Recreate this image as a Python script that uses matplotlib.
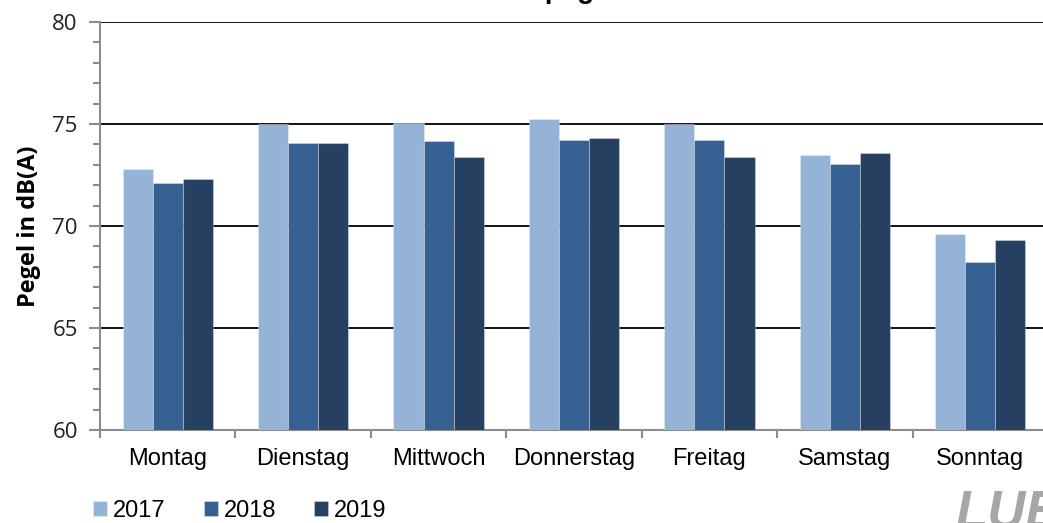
import matplotlib.pyplot as plt
import numpy as np
from matplotlib.ticker import MultipleLocator, FixedLocator

days = ['Montag', 'Dienstag', 'Mittwoch', 'Donnerstag', 'Freitag', 'Samstag', 'Sonntag']
years = ['2017', '2018', '2019']
v2017 = [72.8, 75.0, 75.05, 75.25, 75.0, 73.5, 69.6]
v2018 = [72.1, 74.05, 74.15, 74.2, 74.2, 73.05, 68.25]
v2019 = [72.3, 74.05, 73.4, 74.3, 73.4, 73.6, 69.3]
colors = ['#95B3D7', '#366092', '#254061']

fig = plt.figure(figsize=(10.43, 5.23), dpi=100)
ax = fig.add_axes([100 / 1043, 93 / 523, 948 / 1043, 408 / 523])

x = np.arange(len(days))
w = 0.222
for i, (vals, c, lab) in enumerate(zip([v2017, v2018, v2019], colors, years)):
    ax.bar(x + (i - 1) * w, vals, width=w, color=c, label=lab,
           edgecolor=(1, 1, 1, 0.3), linewidth=0.8, zorder=3)

ax.set_ylim(60, 80)
ax.set_xlim(-0.5, 6.5)
ax.yaxis.set_major_locator(MultipleLocator(5))
ax.yaxis.set_minor_locator(MultipleLocator(1))
for yv in [65, 70, 75, 80]:
    ax.axhline(yv, color='black', linewidth=1.3, zorder=2)

for s in ['top', 'right']:
    ax.spines[s].set_visible(False)
for s in ['left', 'bottom']:
    ax.spines[s].set_color('#8c8c8c')
    ax.spines[s].set_linewidth(1.5)

ax.set_xticks(x)
ax.set_xticklabels(days, fontsize=17, family='Liberation Sans')
ax.xaxis.set_minor_locator(FixedLocator(np.arange(-0.5, 7, 1)))
ax.tick_params(axis='x', which='major', length=0, pad=13)
ax.tick_params(axis='x', which='minor', length=6, width=1.5, color='#8c8c8c', direction='out')
ax.tick_params(axis='y', which='major', length=8, width=1.5, color='#8c8c8c', direction='out', pad=8)
ax.tick_params(axis='y', which='minor', length=5, width=1.5, color='#8c8c8c', direction='out')
for t in ax.get_yticklabels():
    t.set_family('Open Sans')
    t.set_fontsize(16)
    t.set_color('#222222')

ax.set_ylabel('Pegel in dB(A)', fontsize=17, fontweight='bold', family='Open Sans', labelpad=8)

# title sits mostly above the figure, only the descenders show
fig.text(0.525, 1.004, 'Lärmpegel', ha='center', va='baseline', fontsize=20,
         fontweight='bold', family='Liberation Sans')

fig.legend(loc='lower left', bbox_to_anchor=(72 / 1043, -0.038), ncol=3, frameon=False,
           prop={'family': 'Liberation Sans', 'size': 17}, handlelength=0.6,
           handleheight=0.6, handletextpad=0.25, columnspacing=1.6)

fig.text(955 / 1043, 1 - 488 / 523, 'LUBW', ha='left', va='top', fontsize=38,
         fontweight='bold', style='italic', color='#A6A6A6', family='Liberation Sans')

plt.savefig('out.png', dpi=100)
